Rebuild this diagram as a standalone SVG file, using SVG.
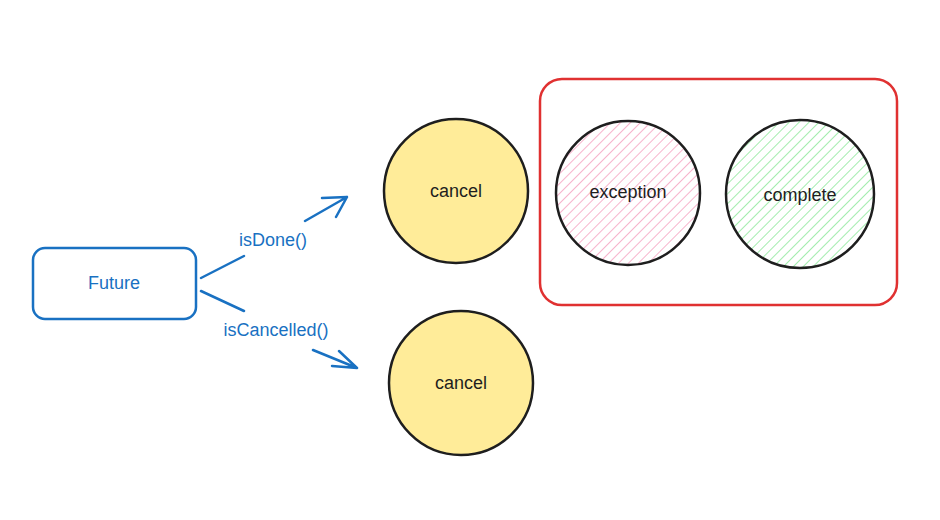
<svg xmlns="http://www.w3.org/2000/svg" width="940" height="520" viewBox="0 0 940 520">
<style>
.t{font-family:"Liberation Sans","Noto Sans",sans-serif;font-size:18px;text-anchor:middle;dominant-baseline:central}
.blue{fill:#1971c2}
.dark{fill:#1e1e1e}
.conn{stroke:#1971c2;stroke-width:2.5;fill:none;stroke-linecap:round;stroke-linejoin:round}
.circ{stroke:#1e1e1e;stroke-width:2.5}
</style>
<defs>
<pattern id="hp" width="7" height="7" patternUnits="userSpaceOnUse" patternTransform="rotate(45)">
<line x1="0" y1="0" x2="0" y2="7" stroke="#f7b3cc" stroke-width="2"/>
</pattern>
<pattern id="hg" width="7" height="7" patternUnits="userSpaceOnUse" patternTransform="rotate(45)">
<line x1="0" y1="0" x2="0" y2="7" stroke="#a3ecae" stroke-width="2"/>
</pattern>
</defs>
<rect width="940" height="520" fill="#ffffff"/>
<g id="connectors">
<path class="conn" d="M201 278 L244 256 M305 221 L347 197 M322 198 L347 197 L336 217"/>
<text class="t blue" x="273" y="240">isDone()</text>
<path class="conn" d="M201 291 L244 311 M313 350 L357 368 M339 351 L357 368 L332 366"/>
<text class="t blue" x="276" y="330">isCancelled()</text>
</g>
<g id="future">
<rect x="33" y="248" width="163" height="71" rx="12" fill="none" stroke="#1971c2" stroke-width="2.5"/>
<text class="t blue" x="114" y="283">Future</text>
</g>
<g id="group">
<rect x="540" y="79" width="357" height="226" rx="22" fill="none" stroke="#e03131" stroke-width="2.5"/>
</g>
<g id="cancel1">
<circle class="circ" cx="456" cy="191" r="72" fill="#ffec99"/>
<text class="t dark" x="456" y="191">cancel</text>
</g>
<g id="cancel2">
<circle class="circ" cx="461" cy="383" r="72" fill="#ffec99"/>
<text class="t dark" x="461" y="383">cancel</text>
</g>
<g id="exception">
<circle class="circ" cx="628" cy="193" r="72" fill="url(#hp)"/>
<text class="t dark" x="628" y="192">exception</text>
</g>
<g id="complete">
<circle class="circ" cx="800" cy="194" r="74" fill="url(#hg)"/>
<text class="t dark" x="800" y="195">complete</text>
</g>
</svg>
